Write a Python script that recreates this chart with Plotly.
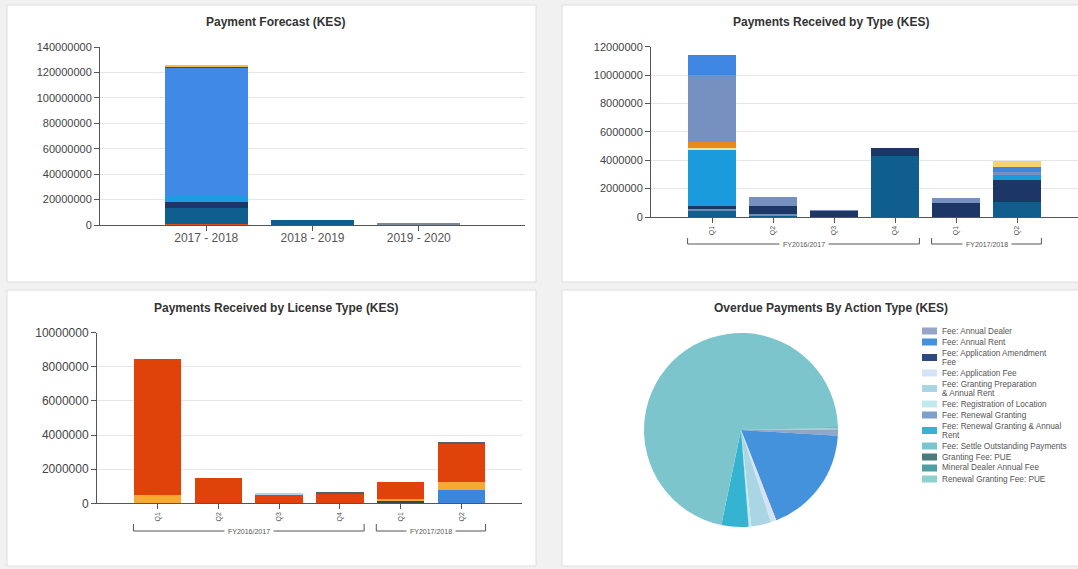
import plotly.graph_objects as go

W, H = 1078, 569
FONT = "Liberation Sans, Arial, sans-serif"

# ---------------- Chart 1: Payment Forecast (KES) ----------------
forecast_years = ["2017 - 2018", "2018 - 2019", "2019 - 2020"]
fc_red = [500000, 0, 0]
fc_teal = [12500000, 3900000, 0]
fc_navy = [5200000, 0, 0]
fc_lightblue = [4500000, 0, 0]
fc_blue = [101000000, 0, 0]
fc_slate = [800000, 0, 0]
fc_yellow = [700000, 0, 0]
fc_gray = [0, 0, 800000]

# ---------------- Chart 2: Payments Received by Type (KES) ----------------
quarters = ["Q1", "Q2", "Q3", "Q4", "Q1", "Q2"]
fiscal_years = ["FY2016/2017", "FY2016/2017", "FY2016/2017", "FY2016/2017",
                "FY2017/2018", "FY2017/2018"]
rt_teal = [450000, 120000, 0, 4300000, 0, 1060000]
rt_steel = [120000, 80000, 0, 0, 0, 0]
rt_navy = [230000, 580000, 450000, 570000, 1000000, 1580000]
rt_lightblue = [3900000, 0, 0, 0, 0, 350000]
rt_paleyellow = [150000, 0, 0, 0, 0, 0]
rt_orange = [450000, 0, 0, 0, 0, 0]
rt_grayblue = [4700000, 630000, 50000, 0, 340000, 210000]
rt_brightblue = [1450000, 0, 0, 0, 0, 330000]
rt_yellow = [0, 0, 0, 0, 0, 420000]

# ---------------- Chart 3: Payments Received by License Type (KES) ----------------
lt_blue = [0, 0, 0, 0, 0, 780000]
lt_dark = [0, 0, 0, 0, 120000, 0]
lt_amber = [490000, 0, 0, 0, 150000, 450000]
lt_red = [7970000, 1500000, 530000, 580000, 1000000, 2220000]
lt_sky = [0, 0, 60000, 0, 0, 0]
lt_gray = [0, 0, 0, 60000, 0, 120000]

# ---------------- Chart 4: Overdue Payments By Action Type (KES) ----------------
overdue_legend = [
    "Fee: Annual Dealer",
    "Fee: Annual Rent",
    "Fee: Application Amendment<br>Fee",
    "Fee: Application Fee",
    "Fee: Granting Preparation<br>& Annual Rent",
    "Fee: Registration of Location",
    "Fee: Renewal Granting",
    "Fee: Renewal Granting & Annual<br>Rent",
    "Fee: Settle Outstanding Payments",
    "Granting Fee: PUE",
    "Mineral Dealer Annual Fee",
    "Renewal Granting Fee: PUE",
]
overdue_values = [1.1, 18.0, 0.1, 0.95, 3.3, 0.4, 0.05, 4.5, 71.3, 0.05, 0.05, 0.2]
overdue_colors = ["#93a6c9", "#4592dc", "#2c4a80", "#d3e4f6", "#a9d5e4", "#c2eaee",
                  "#7d9fc9", "#35b4d1", "#7cc5cc", "#4b7b79", "#4f9ea1", "#8fd0d0"]


def fx(px):
    return px / W


def fy(py):
    return 1 - py / H


fig = go.Figure()

# chart 1 bars
for vals, col in [(fc_red, "#d94f1e"), (fc_teal, "#0f5e8e"), (fc_navy, "#1c3766"),
                  (fc_lightblue, "#1e9ce0"), (fc_blue, "#4189e6"), (fc_slate, "#3c4a5c"),
                  (fc_yellow, "#f2c04a"), (fc_gray, "#7a8a99")]:
    fig.add_trace(go.Bar(x=forecast_years, y=vals, marker=dict(color=col, line=dict(width=0)),
                         xaxis="x", yaxis="y", showlegend=False))

cat_keys = [f"{f} {q}" for f, q in zip(fiscal_years, quarters)]

for vals, col in [(rt_teal, "#0f5e8e"), (rt_steel, "#6f8fb5"), (rt_navy, "#1c3766"),
                  (rt_lightblue, "#1a9bdc"), (rt_paleyellow, "#f3e3a0"), (rt_orange, "#e88a1a"),
                  (rt_grayblue, "#7690c0"), (rt_brightblue, "#3f86e3"), (rt_yellow, "#f6d36a")]:
    fig.add_trace(go.Bar(x=cat_keys, y=vals, marker=dict(color=col, line=dict(width=0)),
                         xaxis="x2", yaxis="y2", showlegend=False))

for vals, col in [(lt_blue, "#3b87e0"), (lt_dark, "#2d4a50"), (lt_amber, "#f7a934"),
                  (lt_red, "#e0430a"), (lt_sky, "#a8d8f0"), (lt_gray, "#555f66")]:
    fig.add_trace(go.Bar(x=cat_keys, y=vals, marker=dict(color=col, line=dict(width=0)),
                         xaxis="x3", yaxis="y3", showlegend=False))

fig.add_trace(go.Pie(
    labels=[t.replace("<br>", " ") for t in overdue_legend], values=overdue_values,
    marker=dict(colors=overdue_colors, line=dict(width=0)),
    sort=False, direction="clockwise", rotation=89.5, textinfo="none",
    domain=dict(x=[fx(644), fx(838)], y=[fy(527), fy(333)]), showlegend=False))

axis_common = dict(showline=True, linecolor="#555", linewidth=1, ticks="outside", automargin=False,
                   ticklen=5, tickcolor="#555", tickfont=dict(family=FONT, size=11, color="#444"))

fig.update_layout(
    template="none",
    width=W, height=H, autosize=False,
    margin=dict(l=0, r=0, t=0, b=0, pad=0),
    paper_bgcolor="#f1f1f1", plot_bgcolor="rgba(0,0,0,0)",
    barmode="stack", bargap=0.22,
    font=dict(family=FONT, color="#444"),
    xaxis=dict(domain=[fx(100), fx(525)], anchor="y", type="category", range=[-1, 3],
               showgrid=False, ticklabelstandoff=-3,
               **{**axis_common, "tickfont": dict(family=FONT, size=12, color="#555")}),
    yaxis=dict(domain=[fy(225), fy(47)], anchor="x", range=[0, 140000000], dtick=20000000,
               tickformat="d", showgrid=True, gridcolor="#e6e6e6", zeroline=False, **axis_common),
    xaxis2=dict(domain=[fx(651), 1.0], anchor="y2", type="category", range=[-1, 6],
                tickvals=cat_keys, ticktext=quarters, tickangle=-90, showgrid=False,
                **{**axis_common, "tickfont": dict(family=FONT, size=7, color="#555")}),
    yaxis2=dict(domain=[fy(217), fy(46.7)], anchor="x2", range=[0, 12000000], dtick=2000000,
                tickformat="d", showgrid=True, gridcolor="#e6e6e6", zeroline=False, **axis_common),
    xaxis3=dict(domain=[fx(97), fx(522)], anchor="y3", type="category", range=[-1, 6],
                tickvals=cat_keys, ticktext=quarters, tickangle=-90, showgrid=False,
                **{**axis_common, "tickfont": dict(family=FONT, size=7, color="#555")}),
    yaxis3=dict(domain=[fy(503.3), fy(332.7)], anchor="x3", range=[0, 10000000], dtick=2000000,
                tickformat="d", showgrid=True, gridcolor="#e6e6e6", zeroline=False,
                **{**axis_common, "tickfont": dict(family=FONT, size=12, color="#444")}),
)

shapes = []
annotations = []

# panels
for x0, y0, x1, y1 in [(7, 5, 536, 282), (562, 5, 1090, 282), (7, 290, 536, 566), (562, 290, 1090, 566)]:
    shapes.append(dict(type="rect", xref="paper", yref="paper", x0=fx(x0), x1=fx(x1),
                       y0=fy(y1), y1=fy(y0), fillcolor="white",
                       line=dict(color="#dedede", width=1), layer="below"))

# titles
for text, cx, cy in [("Payment Forecast (KES)", 275, 22), ("Payments Received by Type (KES)", 831, 22),
                     ("Payments Received by License Type (KES)", 276, 308),
                     ("Overdue Payments By Action Type (KES)", 831, 308)]:
    annotations.append(dict(text=f"<b>{text}</b>", xref="paper", yref="paper", x=fx(cx), y=fy(cy),
                            xanchor="center", yanchor="middle", showarrow=False,
                            font=dict(family=FONT, size=12, color="#333")))

# fiscal-year group brackets
groups = []
for i, f in enumerate(fiscal_years):
    if groups and groups[-1][0] == f:
        groups[-1][2] = i
    else:
        groups.append([f, i, i])

for xref, ybase, ytop in [("x2", 244, 238), ("x3", 531, 524)]:
    for name, first, last in groups:
        a, b = first - 0.4, last + 0.4
        line = dict(color="#555", width=1)
        shapes.append(dict(type="line", xref=xref, yref="paper", x0=a, x1=b, y0=fy(ybase), y1=fy(ybase), line=line))
        shapes.append(dict(type="line", xref=xref, yref="paper", x0=a, x1=a, y0=fy(ybase), y1=fy(ytop), line=line))
        shapes.append(dict(type="line", xref=xref, yref="paper", x0=b, x1=b, y0=fy(ybase), y1=fy(ytop), line=line))
        annotations.append(dict(text=name, xref=xref, yref="paper", x=(first + last) / 2, y=fy(ybase),
                                xanchor="center", yanchor="middle", showarrow=False, bgcolor="white",
                                borderpad=3, font=dict(family=FONT, size=7, color="#555")))

# pie legend
ycur = 331
for label, col in zip(overdue_legend, overdue_colors):
    lines = label.split("<br>")
    center = ycur + (len(lines) - 1) * 9 / 2
    shapes.append(dict(type="rect", xref="paper", yref="paper", x0=fx(922), x1=fx(937),
                       y0=fy(center + 3.5), y1=fy(center - 3.5), fillcolor=col, line=dict(width=0)))
    for k, ln in enumerate(lines):
        annotations.append(dict(text=ln, xref="paper", yref="paper", x=fx(940), y=fy(ycur + k * 9),
                                xanchor="left", yanchor="middle", showarrow=False,
                                font=dict(family=FONT, size=8.2, color="#555")))
    ycur += (len(lines) - 1) * 9 + 11

fig.update_layout(shapes=shapes, annotations=annotations)

fig.write_html("out.html", config={"displayModeBar": False},
               post_script="document.body.style.margin='0';")
